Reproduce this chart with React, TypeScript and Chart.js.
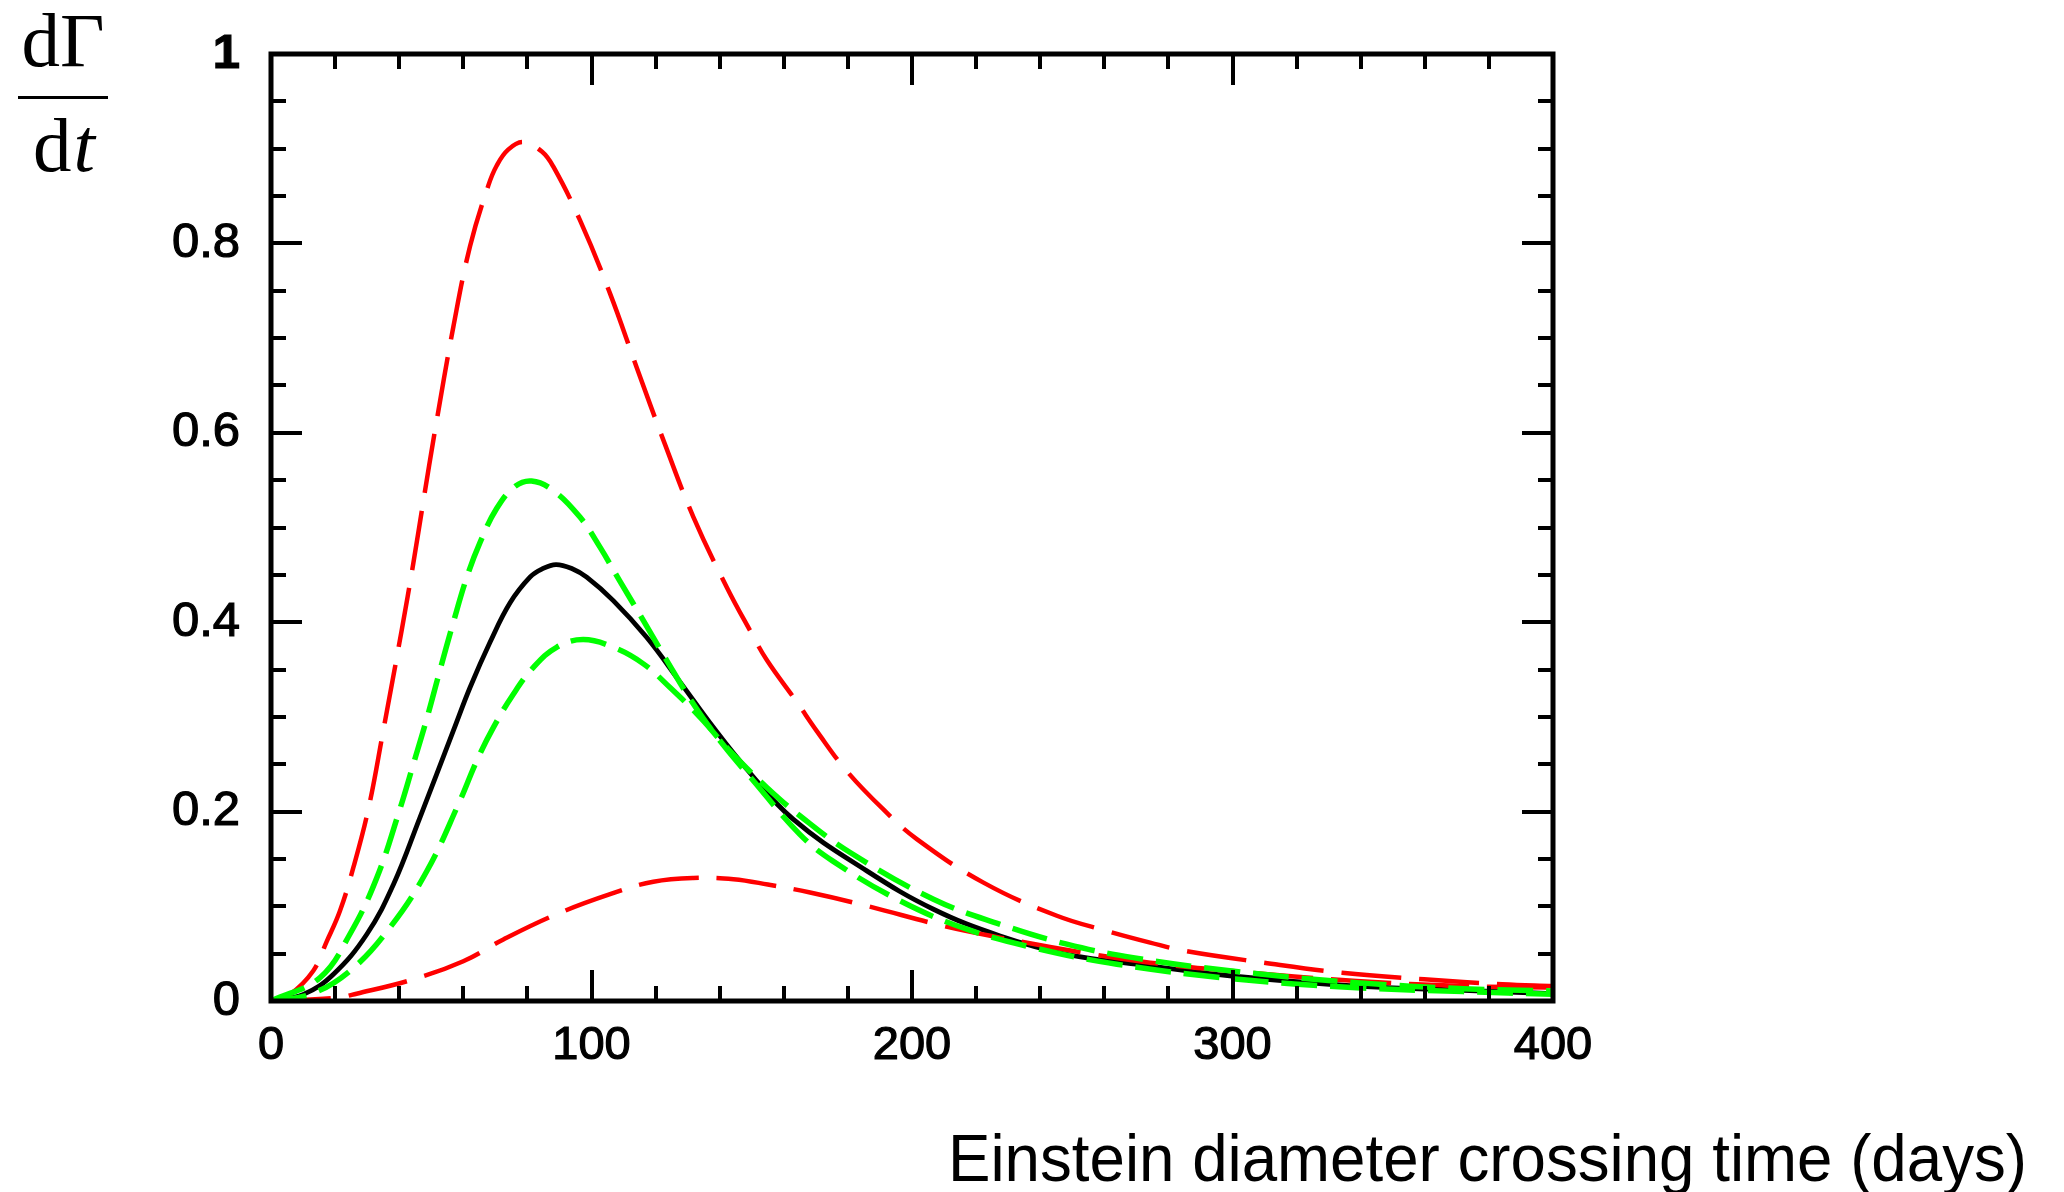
import React, { useEffect, useRef } from 'react';
import { Chart, registerables } from 'chart.js';

Chart.register(...registerables);

// ---- Data ----
const redHighX = [0, 5.9, 13.2, 17.4, 21.5, 25.7, 30.4, 35, 40.8, 44.4, 47.5, 51.2, 56.9, 62.1, 67.8, 70.4, 74, 78.7, 84.5, 88.1, 96.4, 105.8, 114.1, 122.9, 131.8, 142.2, 149.5, 154.7, 164, 170.3, 179.6, 191, 201.5, 222.3, 245.2, 260.9, 274.3, 285.3, 309.8, 334.2, 359.8, 384.2, 400];
const redHighY = [0, 0.007, 0.032, 0.063, 0.095, 0.141, 0.203, 0.285, 0.392, 0.462, 0.527, 0.603, 0.712, 0.797, 0.861, 0.882, 0.899, 0.907, 0.897, 0.881, 0.8245, 0.747, 0.669, 0.588, 0.511, 0.437, 0.391, 0.36, 0.316, 0.285, 0.243, 0.2025, 0.171, 0.125, 0.09, 0.0739, 0.0617, 0.0528, 0.0405, 0.0299, 0.0229, 0.0176, 0.0158];

const greenHighX = [0, 15.3, 24.6, 33, 40.2, 44.4, 48.6, 52.7, 56.9, 61.1, 65.2, 70.4, 76, 81.3, 88.1, 96.4, 102.7, 108.9, 116.2, 123.5, 131.8, 140.1, 150.5, 165, 175.2, 196.3, 217.1, 237.9, 263.9, 299.8, 338.7, 372, 400];
const greenHighY = [0, 0.0247, 0.0705, 0.13, 0.2026, 0.25, 0.298, 0.349, 0.4, 0.4475, 0.484, 0.52, 0.543, 0.549, 0.539, 0.511, 0.479, 0.443, 0.4017, 0.3594, 0.3136, 0.2748, 0.2326, 0.176, 0.148, 0.1057, 0.0758, 0.0563, 0.0388, 0.0236, 0.0141, 0.0099, 0.007];

const blackX = [0, 10.1, 19.4, 29.9, 38.2, 46.5, 51.7, 56.9, 62.1, 68.3, 74.6, 80.8, 84.5, 88.9, 94, 98.5, 106.8, 117.2, 127.6, 138, 148.4, 162.9, 185.9, 206.7, 227.5, 248.3, 274.3, 299.8, 338.7, 372, 400];
const blackY = [0, 0.007, 0.028, 0.0705, 0.123, 0.194, 0.2396, 0.2854, 0.331, 0.3785, 0.4205, 0.4475, 0.456, 0.4609, 0.4565, 0.4475, 0.4228, 0.384, 0.337, 0.289, 0.245, 0.192, 0.1374, 0.0969, 0.0687, 0.0493, 0.037, 0.0264, 0.0158, 0.0113, 0.0077];

const greenLowX = [0, 12.2, 24.6, 37.1, 48.6, 58.5, 64.2, 69.4, 75.6, 81.8, 89.1, 97.4, 106.8, 116.2, 124.5, 133.9, 143.2, 154.7, 165, 180.7, 206.7, 227.5, 248.3, 269, 299.8, 338.7, 372, 400];
const greenLowY = [0, 0.007, 0.0317, 0.0775, 0.137, 0.208, 0.2537, 0.289, 0.324, 0.352, 0.3735, 0.3816, 0.3735, 0.356, 0.331, 0.2995, 0.264, 0.2255, 0.1956, 0.1568, 0.1075, 0.081, 0.06, 0.0458, 0.0317, 0.0194, 0.013, 0.0106];

const redLowX = [0, 20.5, 26.7, 44.4, 60, 72.5, 89.1, 105.8, 119.3, 131.8, 144.3, 155, 168.2, 185.9, 209.8, 227.5, 253.4, 274.3, 299.8, 338.7, 372, 400];
const redLowY = [0, 0.0035, 0.0077, 0.0229, 0.042, 0.065, 0.0916, 0.1128, 0.126, 0.13, 0.1286, 0.123, 0.1145, 0.1004, 0.0793, 0.0669, 0.051, 0.0405, 0.0317, 0.0211, 0.0158, 0.0141];

const xTickLabels = ['0', '100', '200', '300', '400'];
const yTickLabels = ['0', '0.2', '0.4', '0.6', '0.8', '1'];
const xAxisTitle = 'Einstein diameter crossing time (days)';

const W = 2064;
const H = 1192;

function pts(xs: number[], ys: number[]) {
  return xs.map((x, i) => ({ x, y: ys[i] }));
}

const framePlugin = {
  id: 'frameTicks',
  afterDatasetsDraw(chart: any) {
    const ctx = chart.ctx;
    const { left, right, top, bottom } = chart.chartArea;
    const xs = chart.scales.x;
    const ys = chart.scales.y;
    ctx.save();
    ctx.strokeStyle = '#000';
    ctx.lineCap = 'butt';
    ctx.lineWidth = 4;
    const majorLen = 31;
    const minorLen = 15;
    xs.ticks.forEach((t: any) => {
      const px = Math.round(xs.getPixelForValue(t.value));
      if (Math.abs(px - left) < 3 || Math.abs(px - right) < 3) return;
      const len = t.label !== '' ? majorLen : minorLen;
      ctx.beginPath();
      ctx.moveTo(px, bottom);
      ctx.lineTo(px, bottom - len);
      ctx.moveTo(px, top);
      ctx.lineTo(px, top + len);
      ctx.stroke();
    });
    ys.ticks.forEach((t: any) => {
      const py = Math.round(ys.getPixelForValue(t.value));
      if (Math.abs(py - top) < 3 || Math.abs(py - bottom) < 3) return;
      const len = t.label !== '' ? majorLen : minorLen;
      ctx.beginPath();
      ctx.moveTo(left, py);
      ctx.lineTo(left + len, py);
      ctx.moveTo(right, py);
      ctx.lineTo(right - len, py);
      ctx.stroke();
    });
    ctx.lineWidth = 5;
    ctx.lineJoin = 'miter';
    ctx.strokeRect(left, top, right - left, bottom - top);
    ctx.restore();
  },
  afterDraw(chart: any) {
    const ctx = chart.ctx;
    ctx.save();
    ctx.fillStyle = '#000';
    // x-axis title (condensed sans)
    ctx.font = '67px "Liberation Sans", Arial, sans-serif';
    ctx.textBaseline = 'alphabetic';
    ctx.textAlign = 'left';
    const tw = ctx.measureText(xAxisTitle).width;
    const targetW = 1079;
    ctx.save();
    ctx.translate(948, 1181);
    ctx.scale(targetW / tw, 1);
    ctx.fillText(xAxisTitle, 0, 0);
    ctx.restore();

    // y-axis label: dΓ / dt
    const cx = 63;
    ctx.font = '77px "Liberation Serif", "DejaVu Serif", serif';
    ctx.textAlign = 'center';
    ctx.fillText('dΓ', cx, 66);
    ctx.fillRect(18, 96, 90, 3);
    ctx.textAlign = 'left';
    const wd = ctx.measureText('d').width;
    ctx.font = 'italic 77px "Liberation Serif", "DejaVu Serif", serif';
    const wt = ctx.measureText('t').width;
    const start = cx - (wd + wt) / 2;
    ctx.font = '77px "Liberation Serif", "DejaVu Serif", serif';
    ctx.fillText('d', start, 171);
    ctx.font = 'italic 77px "Liberation Serif", "DejaVu Serif", serif';
    ctx.fillText('t', start + wd + 2, 171);
    ctx.restore();
  },
};

export default function App() {
  const ref = useRef<HTMLCanvasElement | null>(null);

  useEffect(() => {
    const canvas = ref.current;
    if (!canvas) return;
    const red = '#ff0000';
    const green = '#00ff00';
    const chart = new Chart(canvas, {
      type: 'line',
      data: {
        datasets: [
          {
            label: 'red high',
            data: pts(redHighX, redHighY),
            borderColor: red,
            borderWidth: 4.5,
            borderDash: [60, 18],
            order: 3,
          },
          {
            label: 'green high',
            data: pts(greenHighX, greenHighY),
            borderColor: green,
            borderWidth: 5.5,
            borderDash: [36, 13],
            order: 1,
          },
          {
            label: 'black',
            data: pts(blackX, blackY),
            borderColor: '#000000',
            borderWidth: 4.8,
            order: 5,
          },
          {
            label: 'green low',
            data: pts(greenLowX, greenLowY),
            borderColor: green,
            borderWidth: 5.5,
            borderDash: [36, 13],
            order: 2,
          },
          {
            label: 'red low',
            data: pts(redLowX, redLowY),
            borderColor: red,
            borderWidth: 4.5,
            borderDash: [60, 18],
            order: 4,
          },
        ].map((d) => ({
          ...d,
          pointRadius: 0,
          fill: false,
          tension: 0.4,
          borderCapStyle: 'butt' as const,
        })),
      },
      options: {
        animation: false,
        responsive: false,
        devicePixelRatio: 1,
        layout: { padding: { left: 0, top: 54, right: W - 1553, bottom: 0 } },
        plugins: {
          legend: { display: false },
          tooltip: { enabled: false },
          title: { display: false },
        },
        scales: {
          x: {
            type: 'linear',
            min: 0,
            max: 400,
            grid: { display: false, drawTicks: false },
            border: { display: false },
            afterFit: (scale: any) => {
              scale.height = H - 1001;
              scale.paddingLeft = 0;
              scale.paddingRight = 0;
            },
            ticks: {
              stepSize: 20,
              autoSkip: false,
              maxRotation: 0,
              padding: 17,
              color: '#000',
              textStrokeColor: '#000',
              textStrokeWidth: 1.2,
              font: { family: '"Liberation Sans", Arial, sans-serif', size: 47 },
              callback: (v: any) => {
                const k = Math.round(Number(v) / 100);
                return Math.abs(Number(v) - k * 100) < 1e-6 ? xTickLabels[k] : '';
              },
            },
          },
          y: {
            type: 'linear',
            min: 0,
            max: 1,
            grid: { display: false, drawTicks: false },
            border: { display: false },
            afterFit: (scale: any) => {
              scale.width = 271;
              scale.paddingTop = 0;
              scale.paddingBottom = 0;
            },
            ticks: {
              stepSize: 0.05,
              autoSkip: false,
              padding: 31,
              color: '#000',
              textStrokeColor: '#000',
              textStrokeWidth: 1.2,
              font: (c: any) => ({
                family: '"Liberation Sans", Arial, sans-serif',
                size: 49,
                weight: c.tick && Math.abs(c.tick.value - 1) < 1e-6 ? 'bold' : 'normal',
              }),
              callback: (v: any) => {
                const k = Math.round(Number(v) / 0.2);
                return Math.abs(Number(v) - k * 0.2) < 1e-6 ? yTickLabels[k] : '';
              },
            },
          },
        },
      },
      plugins: [framePlugin],
    } as any);
    return () => chart.destroy();
  }, []);

  return (
    <div style={{ position: 'fixed', left: 0, top: 0, width: W, height: H, background: '#fff' }}>
      <canvas ref={ref} width={W} height={H} style={{ width: W, height: H, display: 'block' }} />
    </div>
  );
}
